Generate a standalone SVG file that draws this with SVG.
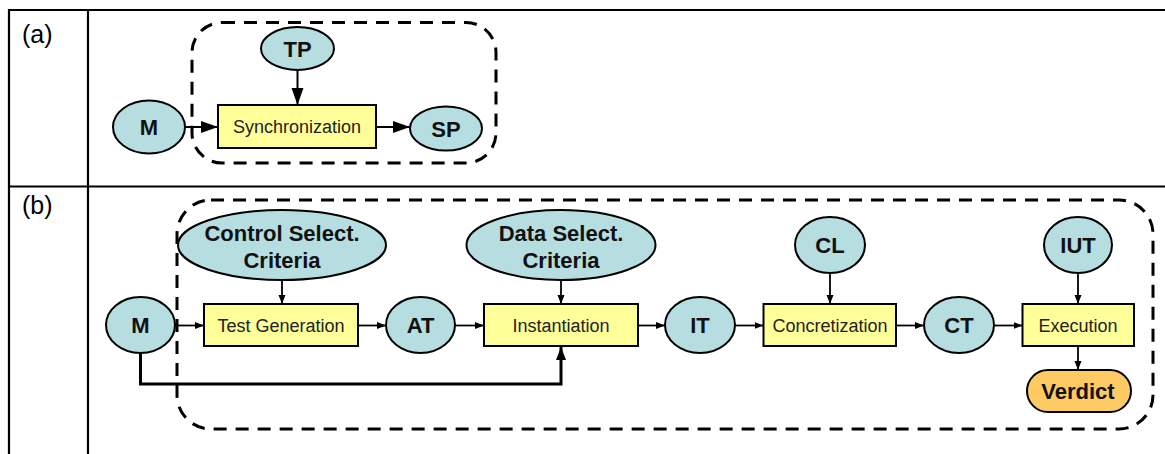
<svg xmlns="http://www.w3.org/2000/svg" width="1165" height="454" viewBox="0 0 1165 454">
<style>
.tbl{stroke:#000;stroke-width:2.2;fill:none}
.lbl{font-family:"Liberation Sans",Arial,sans-serif;font-size:25px;fill:#000}
.ell{fill:#B6DDE0;stroke:#000;stroke-width:2}
.box{fill:#FFFF99;stroke:#000;stroke-width:2}
.ver{fill:#FDCA63;stroke:#000;stroke-width:2}
.bt{font-family:"Liberation Sans",Arial,sans-serif;font-size:22px;font-weight:bold;fill:#111;text-anchor:middle}
.rt{font-family:"Liberation Sans",Arial,sans-serif;font-size:18px;fill:#222;text-anchor:middle}
.dash{fill:none;stroke:#000;stroke-width:3;stroke-dasharray:13 9}
.c{stroke:#000;stroke-width:1.8;fill:none}
.ca{stroke:#000;stroke-width:2;fill:none}
.ct{stroke:#000;stroke-width:3;fill:none}
</style>
<defs>
<marker id="sm" markerUnits="userSpaceOnUse" markerWidth="10" markerHeight="8" refX="9" refY="4" orient="auto"><path d="M0,0.5 L9,4 L0,7.5 Z" fill="#000"/></marker>
<marker id="lg" markerUnits="userSpaceOnUse" markerWidth="18" markerHeight="14" refX="17" refY="7" orient="auto"><path d="M0,1 L17,7 L0,13 Z" fill="#000"/></marker>
<marker id="md" markerUnits="userSpaceOnUse" markerWidth="14" markerHeight="12" refX="13" refY="5.5" orient="auto"><path d="M0,0.5 L13,5.5 L0,10.5 Z" fill="#000"/></marker>
</defs>
<rect width="1165" height="454" fill="#fff"/>
<g id="table">
<line class="tbl" x1="8" y1="10" x2="1165" y2="10"/>
<line class="tbl" x1="8" y1="186.5" x2="1165" y2="186.5"/>
<line class="tbl" x1="9" y1="9" x2="9" y2="454"/>
<line class="tbl" x1="88" y1="9" x2="88" y2="454"/>
<text class="lbl" x="22" y="42.5">(a)</text>
<text class="lbl" x="22" y="214">(b)</text>
</g>
<g id="group-a"><rect class="dash" x="192" y="22.5" width="304" height="140.5" rx="30"/></g>
<g id="group-b"><rect class="dash" x="177" y="200" width="976" height="229" rx="34"/></g>
<g id="connectors">
<line class="ca" x1="185" y1="127" x2="218" y2="127" marker-end="url(#lg)"/>
<line class="ca" x1="297.5" y1="70" x2="297.5" y2="105" marker-end="url(#lg)"/>
<line class="ca" x1="376" y1="127" x2="410" y2="127" marker-end="url(#lg)"/>
<line class="c" x1="282" y1="280" x2="282" y2="304" marker-end="url(#sm)"/>
<line class="c" x1="175" y1="325.5" x2="204" y2="325.5" marker-end="url(#sm)"/>
<line class="c" x1="358" y1="325.5" x2="386" y2="325.5" marker-end="url(#sm)"/>
<line class="c" x1="455" y1="325.5" x2="484" y2="325.5" marker-end="url(#sm)"/>
<line class="c" x1="561" y1="280" x2="561" y2="304" marker-end="url(#sm)"/>
<line class="c" x1="638" y1="325.5" x2="665" y2="325.5" marker-end="url(#sm)"/>
<line class="c" x1="735" y1="325.5" x2="763.5" y2="325.5" marker-end="url(#sm)"/>
<line class="c" x1="830" y1="273" x2="830" y2="304" marker-end="url(#sm)"/>
<line class="c" x1="896" y1="325.5" x2="924" y2="325.5" marker-end="url(#sm)"/>
<line class="c" x1="994" y1="325.5" x2="1022.5" y2="325.5" marker-end="url(#sm)"/>
<line class="c" x1="1078" y1="273" x2="1078" y2="304" marker-end="url(#sm)"/>
<line class="c" x1="1078" y1="346" x2="1078" y2="370" marker-end="url(#sm)"/>
<path class="ct" d="M140.5,353 V384 H561 V347" marker-end="url(#md)"/>
</g>
<g id="a-M"><ellipse class="ell" cx="149" cy="127" rx="36" ry="26.5"/><text class="bt" x="149" y="135">M</text></g>
<g id="a-TP"><ellipse class="ell" cx="297.5" cy="48.5" rx="36.5" ry="21.5"/><text class="bt" x="297.5" y="56.5">TP</text></g>
<g id="a-Sync"><rect class="box" x="218" y="105" width="158" height="43"/><text class="rt" x="297" y="133">Synchronization</text></g>
<g id="a-SP"><ellipse class="ell" cx="446" cy="128.5" rx="36" ry="22"/><text class="bt" x="446" y="136.5">SP</text></g>
<g id="b-M"><ellipse class="ell" cx="140.5" cy="325" rx="34.5" ry="28"/><text class="bt" x="140.5" y="333">M</text></g>
<g id="b-Control"><ellipse class="ell" cx="282" cy="245" rx="104" ry="35"/><text class="bt" x="282" y="240.5">Control Select.</text><text class="bt" x="282" y="268">Criteria</text></g>
<g id="b-TestGen"><rect class="box" x="204" y="304" width="154" height="42"/><text class="rt" x="281" y="332">Test Generation</text></g>
<g id="b-AT"><ellipse class="ell" cx="420.5" cy="325" rx="34.5" ry="28"/><text class="bt" x="420.5" y="333">AT</text></g>
<g id="b-Data"><ellipse class="ell" cx="561" cy="245" rx="94.5" ry="35"/><text class="bt" x="561" y="240.5">Data Select.</text><text class="bt" x="561" y="268">Criteria</text></g>
<g id="b-Inst"><rect class="box" x="484" y="304" width="154" height="42"/><text class="rt" x="561" y="332">Instantiation</text></g>
<g id="b-IT"><ellipse class="ell" cx="700" cy="325" rx="35" ry="28"/><text class="bt" x="700" y="333">IT</text></g>
<g id="b-CL"><ellipse class="ell" cx="830" cy="245" rx="35" ry="28"/><text class="bt" x="830" y="253">CL</text></g>
<g id="b-Conc"><rect class="box" x="763.5" y="304" width="132.5" height="42"/><text class="rt" x="830" y="332">Concretization</text></g>
<g id="b-CT"><ellipse class="ell" cx="959" cy="325" rx="35" ry="28"/><text class="bt" x="959" y="333">CT</text></g>
<g id="b-IUT"><ellipse class="ell" cx="1078" cy="245" rx="34" ry="28"/><text class="bt" x="1078" y="253">IUT</text></g>
<g id="b-Exec"><rect class="box" x="1022.5" y="304" width="111.5" height="42"/><text class="rt" x="1078" y="332">Execution</text></g>
<g id="b-Verdict"><rect class="ver" x="1027" y="370" width="104" height="42" rx="21"/><text class="bt" x="1078" y="399">Verdict</text></g>
</svg>
